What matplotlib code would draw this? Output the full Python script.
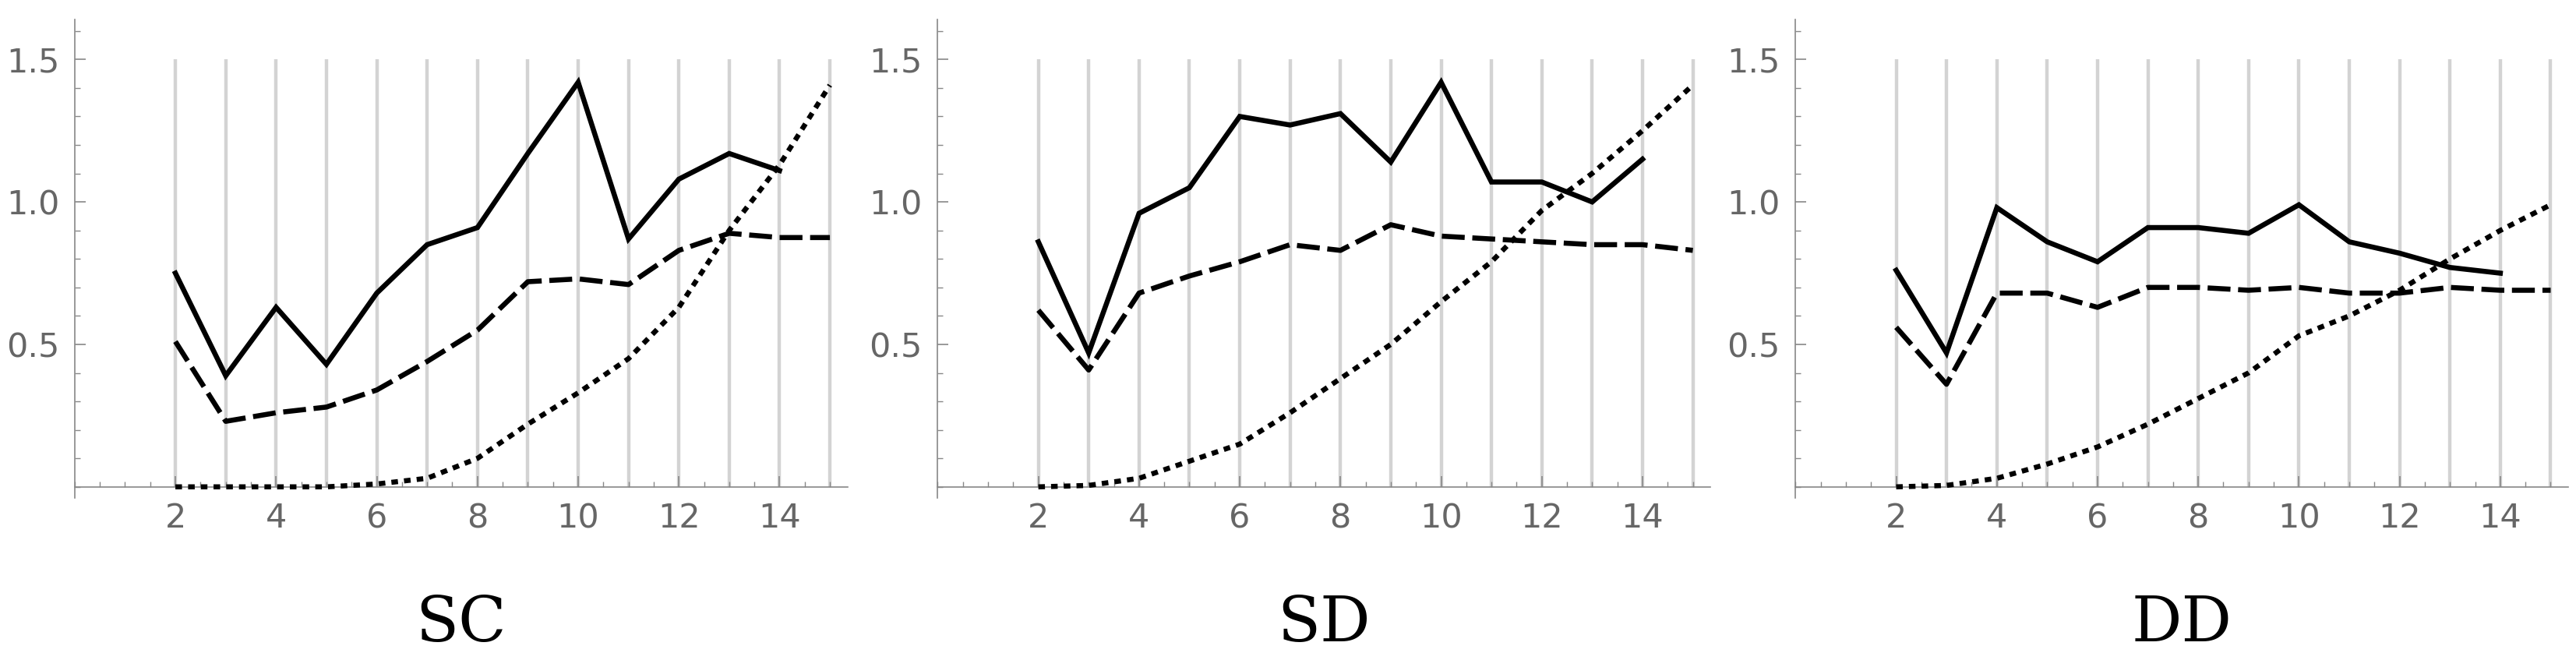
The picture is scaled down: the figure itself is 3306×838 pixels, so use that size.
import numpy as np
import matplotlib
matplotlib.use("Agg")
import matplotlib.pyplot as plt
from matplotlib.ticker import MultipleLocator

x_vals = list(range(2, 16))
panel_titles = ["SC", "SD", "DD"]

# solid series stops at 14
sc_solid = [0.75, 0.39, 0.63, 0.43, 0.68, 0.85, 0.91, 1.17, 1.42, 0.87, 1.08, 1.17, 1.11]
sc_dashed = [0.51, 0.23, 0.26, 0.28, 0.34, 0.44, 0.55, 0.72, 0.73, 0.71, 0.83, 0.89, 0.875, 0.875]
sc_dotted = [0.0, 0.0, 0.0, 0.0, 0.01, 0.03, 0.10, 0.22, 0.33, 0.45, 0.63, 0.90, 1.13, 1.41]

sd_solid = [0.86, 0.47, 0.96, 1.05, 1.30, 1.27, 1.31, 1.14, 1.42, 1.07, 1.07, 1.00, 1.15]
sd_dashed = [0.62, 0.41, 0.68, 0.74, 0.79, 0.85, 0.83, 0.92, 0.88, 0.87, 0.86, 0.85, 0.85, 0.83]
sd_dotted = [0.0, 0.005, 0.03, 0.09, 0.15, 0.26, 0.38, 0.50, 0.65, 0.79, 0.97, 1.10, 1.25, 1.41]

dd_solid = [0.76, 0.47, 0.98, 0.86, 0.79, 0.91, 0.91, 0.89, 0.99, 0.86, 0.82, 0.77, 0.75]
dd_dashed = [0.56, 0.36, 0.68, 0.68, 0.63, 0.70, 0.70, 0.69, 0.70, 0.68, 0.68, 0.70, 0.69, 0.69]
dd_dotted = [0.0, 0.005, 0.03, 0.08, 0.14, 0.22, 0.31, 0.40, 0.53, 0.60, 0.69, 0.80, 0.90, 0.99]

panels = [
    (sc_solid, sc_dashed, sc_dotted),
    (sd_solid, sd_dashed, sd_dotted),
    (dd_solid, dd_dashed, dd_dotted),
]
lefts = [0.029, 0.364, 0.697]
width = 0.300

fig = plt.figure(figsize=(33.06, 8.38), dpi=100)
lw = 4.7
for i, (solid, dashed, dotted) in enumerate(panels):
    ax = fig.add_axes([lefts[i], 0.237, width, 0.733])
    ax.vlines(x_vals, 0, 1.5, colors="#d3d3d3", linewidth=3.2, zorder=1)
    ax.plot(x_vals[:len(solid)], solid, color="black", lw=lw, solid_joinstyle="miter", zorder=3)
    ax.plot(x_vals, dashed, color="black", lw=lw, dashes=(4.5, 1.5), zorder=3)
    ax.plot(x_vals, dotted, color="black", lw=lw, dashes=(1.3, 1.2), zorder=3)

    ax.set_xlim(0, 15.35)
    ax.set_ylim(-0.04, 1.64)
    for s in ["top", "right"]:
        ax.spines[s].set_visible(False)
    ax.spines["bottom"].set_position(("data", 0))
    ax.spines["left"].set_position(("data", 0))
    for s in ["bottom", "left"]:
        ax.spines[s].set_color("#888888")
        ax.spines[s].set_linewidth(1.2)
    ax.set_xticks(range(2, 15, 2))
    ax.xaxis.set_minor_locator(MultipleLocator(0.5))
    ax.set_yticks([0.5, 1.0, 1.5])
    ax.yaxis.set_minor_locator(MultipleLocator(0.1))
    ax.tick_params(direction="in", colors="#888888", labelcolor="#666666",
                   labelsize=31, length=10, width=1.2, pad=14)
    ax.tick_params(which="minor", direction="in", colors="#888888", length=5, width=1)
    ax.set_yticklabels(["0.5", "1.0", "1.5"])
    ax.text(0.5, -0.2, panel_titles[i], transform=ax.transAxes, ha="center", va="top",
            family="DejaVu Serif", fontsize=58)

plt.savefig("out.png", dpi=100)
